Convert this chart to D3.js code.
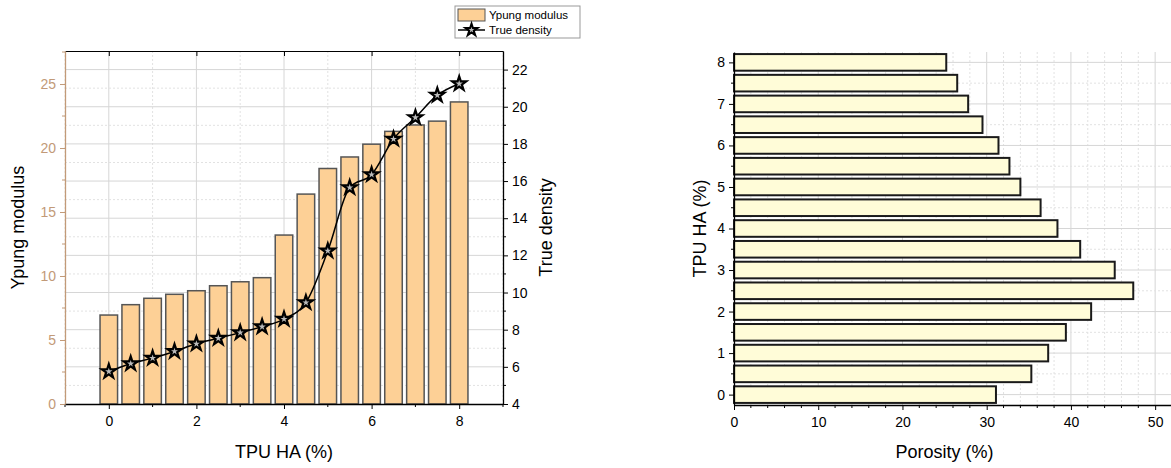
<!DOCTYPE html>
<html>
<head>
<meta charset="utf-8">
<script src="https://cdn.jsdelivr.net/npm/d3@7"></script>
<style>
  body { margin: 0; background: #fff; }
  svg { font-family: "Liberation Sans", Arial, sans-serif; }
  .grid-major { stroke: #d6d6d6; stroke-width: 1; }
  .grid-minor { stroke: #e2e2e2; stroke-width: 1; stroke-dasharray: 2,2; }
</style>
</head>
<body>
<div id="chart"></div>
<script>
// data
var tpu = [0, 0.5, 1, 1.5, 2, 2.5, 3, 3.5, 4, 4.5, 5, 5.5, 6, 6.5, 7, 7.5, 8];
var ypung = [6.95, 7.76, 8.26, 8.57, 8.85, 9.24, 9.55, 9.87, 13.2, 16.4, 18.4, 19.3, 20.3, 21.3, 21.8, 22.1, 23.6];
var density = [5.75, 6.17, 6.47, 6.83, 7.24, 7.54, 7.84, 8.16, 8.57, 9.46, 12.24, 15.65, 16.35, 18.26, 19.42, 20.62, 21.24];
var porosity = [31.1, 35.3, 37.3, 39.4, 42.4, 47.4, 45.2, 41.1, 38.4, 36.4, 34.0, 32.7, 31.4, 29.5, 27.8, 26.5, 25.2];

var xTicks = [0, 2, 4, 6, 8];
var ypungTicks = [0, 5, 10, 15, 20, 25];
var densityTicks = [4, 6, 8, 10, 12, 14, 16, 18, 20, 22];
var porosityTicks = [0, 10, 20, 30, 40, 50];
var tpuTicks = [0, 1, 2, 3, 4, 5, 6, 7, 8];

var width = 1171;
var height = 468;
var tan = "#c29a78";

var svg = d3.select("#chart").append("svg")
            .attr("width", width)
            .attr("height", height);

// ---------------- left chart ----------------
var L = {x0: 65, x1: 503, y0: 51, y1: 404};

var x = d3.scaleLinear().domain([-1, 9]).range([L.x0, L.x1]);
var yL = d3.scaleLinear().domain([0, 27.58]).range([L.y1, L.y0]);
var yR = d3.scaleLinear().domain([4, 23]).range([L.y1, L.y0]);

var left = svg.append("g");

// grid
var minorX = d3.range(-1, 9.01, 1).filter(function(d) { return d % 2 !== 0; });
left.selectAll("line.gxm").data(minorX).enter().append("line")
    .attr("class", "grid-minor")
    .attr("x1", function(d) { return x(d); }).attr("x2", function(d) { return x(d); })
    .attr("y1", L.y0).attr("y2", L.y1);
left.selectAll("line.gxM").data(xTicks).enter().append("line")
    .attr("class", "grid-major")
    .attr("x1", function(d) { return x(d); }).attr("x2", function(d) { return x(d); })
    .attr("y1", L.y0).attr("y2", L.y1);
left.selectAll("line.gym").data(d3.range(5, 23, 2)).enter().append("line")
    .attr("class", "grid-minor")
    .attr("x1", L.x0).attr("x2", L.x1)
    .attr("y1", function(d) { return yR(d); }).attr("y2", function(d) { return yR(d); });
left.selectAll("line.gyM").data(densityTicks.slice(1)).enter().append("line")
    .attr("class", "grid-major")
    .attr("x1", L.x0).attr("x2", L.x1)
    .attr("y1", function(d) { return yR(d); }).attr("y2", function(d) { return yR(d); });

// bars
var barW = x(0.4) - x(0);
left.selectAll("rect.bar").data(tpu).enter().append("rect")
    .attr("x", function(d) { return x(d) - barW / 2; })
    .attr("y", function(d, i) { return yL(ypung[i]); })
    .attr("width", barW)
    .attr("height", function(d, i) { return L.y1 - yL(ypung[i]); })
    .attr("fill", "#fdd096")
    .attr("stroke", "#555")
    .attr("stroke-width", 1.5);

// density line
var line = d3.line()
             .x(function(d) { return x(d); })
             .y(function(d, i) { return yR(density[i]); })
             .curve(d3.curveMonotoneX);
left.append("path").datum(tpu)
    .attr("d", line)
    .attr("fill", "none")
    .attr("stroke", "#000")
    .attr("stroke-width", 1.5);

var star = d3.symbol().type(d3.symbolStar).size(60);
left.selectAll("path.star").data(tpu).enter().append("path")
    .attr("d", star)
    .attr("transform", function(d, i) { return "translate(" + x(d) + "," + yR(density[i]) + ")"; })
    .attr("fill", "#bbb")
    .attr("stroke", "#000")
    .attr("stroke-width", 2.2);

// axes
var bottomAxis = d3.axisBottom(x).tickValues(xTicks).tickSize(5).tickSizeOuter(0).tickPadding(7);
var gB = left.append("g").attr("transform", "translate(0," + L.y1 + ")").call(bottomAxis);
gB.selectAll("line.minor").data(minorX).enter().append("line")
  .attr("x1", function(d) { return x(d); }).attr("x2", function(d) { return x(d); })
  .attr("y1", 0).attr("y2", 3).attr("stroke", "#000");

var topAxis = d3.axisBottom(x).tickValues(xTicks).tickSize(5).tickSizeOuter(0).tickFormat("");
left.append("g").attr("transform", "translate(0," + L.y0 + ")").call(topAxis);

var leftAxis = d3.axisLeft(yL).tickValues(ypungTicks).tickSize(5).tickSizeOuter(0).tickPadding(4);
var gL = left.append("g").attr("transform", "translate(" + L.x0 + ",0)").call(leftAxis);
gL.select(".domain").attr("stroke", tan);
gL.selectAll(".tick line").attr("stroke", tan);
gL.selectAll(".tick text").attr("fill", tan);
gL.selectAll("line.minor").data(d3.range(2.5, 27.6, 5)).enter().append("line")
  .attr("x1", 0).attr("x2", -3)
  .attr("y1", function(d) { return yL(d); }).attr("y2", function(d) { return yL(d); })
  .attr("stroke", tan);

var rightAxis = d3.axisRight(yR).tickValues(densityTicks).tickSize(5).tickSizeOuter(0).tickPadding(4);
var gR = left.append("g").attr("transform", "translate(" + L.x1 + ",0)").call(rightAxis);
gR.selectAll("line.minor").data(d3.range(5, 23, 2)).enter().append("line")
  .attr("x1", 0).attr("x2", 3)
  .attr("y1", function(d) { return yR(d); }).attr("y2", function(d) { return yR(d); })
  .attr("stroke", "#000");

[gB, gL, gR].forEach(function(g) {
  g.selectAll(".tick text").attr("font-size", 14).attr("font-family", "Liberation Sans, Arial, sans-serif");
  g.select(".domain").attr("stroke-width", 1.3);
});

left.append("text")
    .attr("x", (L.x0 + L.x1) / 2).attr("y", 458)
    .attr("text-anchor", "middle").attr("font-size", 18)
    .text("TPU HA (%)");
left.append("text")
    .attr("transform", "translate(24," + (L.y0 + L.y1) / 2 + ") rotate(-90)")
    .attr("text-anchor", "middle").attr("font-size", 18)
    .text("Ypung modulus");
left.append("text")
    .attr("transform", "translate(552," + (L.y0 + L.y1) / 2 + ") rotate(-90)")
    .attr("text-anchor", "middle").attr("font-size", 18)
    .text("True density");

// legend
var legend = svg.append("g").attr("transform", "translate(455,6)");
legend.append("rect").attr("width", 125).attr("height", 32)
      .attr("fill", "#fff").attr("stroke", "#999");
legend.append("rect").attr("x", 3).attr("y", 3).attr("width", 27).attr("height", 12)
      .attr("fill", "#fdd096").attr("stroke", "#555");
legend.append("text").attr("x", 34).attr("y", 13).attr("font-size", 11.5).text("Ypung modulus");
legend.append("line").attr("x1", 3).attr("x2", 30).attr("y1", 24).attr("y2", 24)
      .attr("stroke", "#000").attr("stroke-width", 1.5);
legend.append("path").attr("d", d3.symbol().type(d3.symbolStar).size(45))
      .attr("transform", "translate(16.5,24)")
      .attr("fill", "#bbb").attr("stroke", "#000").attr("stroke-width", 2);
legend.append("text").attr("x", 34).attr("y", 28).attr("font-size", 11.5).text("True density");

// ---------------- right chart ----------------
var R = {x0: 734, x1: 1172, y0: 52, y1: 405};

var xp = d3.scaleLinear().domain([0, 52]).range([R.x0, R.x1]);
var yp = d3.scaleLinear().domain([-0.25, 8.25]).range([R.y1, R.y0]);

var right = svg.append("g");

right.selectAll("line.pxm").data(d3.range(2, 52, 2).filter(function(d) { return d % 10 !== 0; })).enter().append("line")
     .attr("class", "grid-minor")
     .attr("x1", function(d) { return xp(d); }).attr("x2", function(d) { return xp(d); })
     .attr("y1", R.y0).attr("y2", R.y1);
right.selectAll("line.pxM").data(porosityTicks.slice(1)).enter().append("line")
     .attr("class", "grid-major")
     .attr("x1", function(d) { return xp(d); }).attr("x2", function(d) { return xp(d); })
     .attr("y1", R.y0).attr("y2", R.y1);
right.selectAll("line.pym").data(d3.range(0.5, 8, 1)).enter().append("line")
     .attr("class", "grid-minor")
     .attr("x1", R.x0).attr("x2", R.x1)
     .attr("y1", function(d) { return yp(d); }).attr("y2", function(d) { return yp(d); });
right.selectAll("line.pyM").data(tpuTicks).enter().append("line")
     .attr("class", "grid-major")
     .attr("x1", R.x0).attr("x2", R.x1)
     .attr("y1", function(d) { return yp(d); }).attr("y2", function(d) { return yp(d); });

var barH = yp(0) - yp(0.4);
right.selectAll("rect.hbar").data(tpu).enter().append("rect")
     .attr("x", R.x0)
     .attr("y", function(d) { return yp(d) - barH / 2; })
     .attr("width", function(d, i) { return xp(porosity[i]) - R.x0; })
     .attr("height", barH)
     .attr("fill", "#fffcd8")
     .attr("stroke", "#1a1a1a")
     .attr("stroke-width", 2);

var pAxis = d3.axisBottom(xp).tickValues(porosityTicks).tickSize(5).tickSizeOuter(0).tickPadding(7);
var gPB = right.append("g").attr("transform", "translate(0," + R.y1 + ")").call(pAxis);
gPB.selectAll("line.minor").data(d3.range(2, 52, 2).filter(function(d) { return d % 10 !== 0; })).enter().append("line")
   .attr("x1", function(d) { return xp(d); }).attr("x2", function(d) { return xp(d); })
   .attr("y1", 0).attr("y2", 3).attr("stroke", "#000");

var tAxis = d3.axisLeft(yp).tickValues(tpuTicks).tickSize(5).tickSizeOuter(0).tickPadding(4);
var gPL = right.append("g").attr("transform", "translate(" + R.x0 + ",0)").call(tAxis);
gPL.selectAll("line.minor").data(d3.range(0.5, 8, 1)).enter().append("line")
   .attr("x1", 0).attr("x2", -3)
   .attr("y1", function(d) { return yp(d); }).attr("y2", function(d) { return yp(d); })
   .attr("stroke", "#000");

[gPB, gPL].forEach(function(g) {
  g.selectAll(".tick text").attr("font-size", 14).attr("font-family", "Liberation Sans, Arial, sans-serif");
  g.select(".domain").attr("stroke-width", 1.3);
});

right.append("text")
     .attr("x", xp(25)).attr("y", 458)
     .attr("text-anchor", "middle").attr("font-size", 18)
     .text("Porosity (%)");
right.append("text")
     .attr("transform", "translate(706," + (R.y0 + R.y1) / 2 + ") rotate(-90)")
     .attr("text-anchor", "middle").attr("font-size", 18)
     .text("TPU HA (%)");
</script>
</body>
</html>
